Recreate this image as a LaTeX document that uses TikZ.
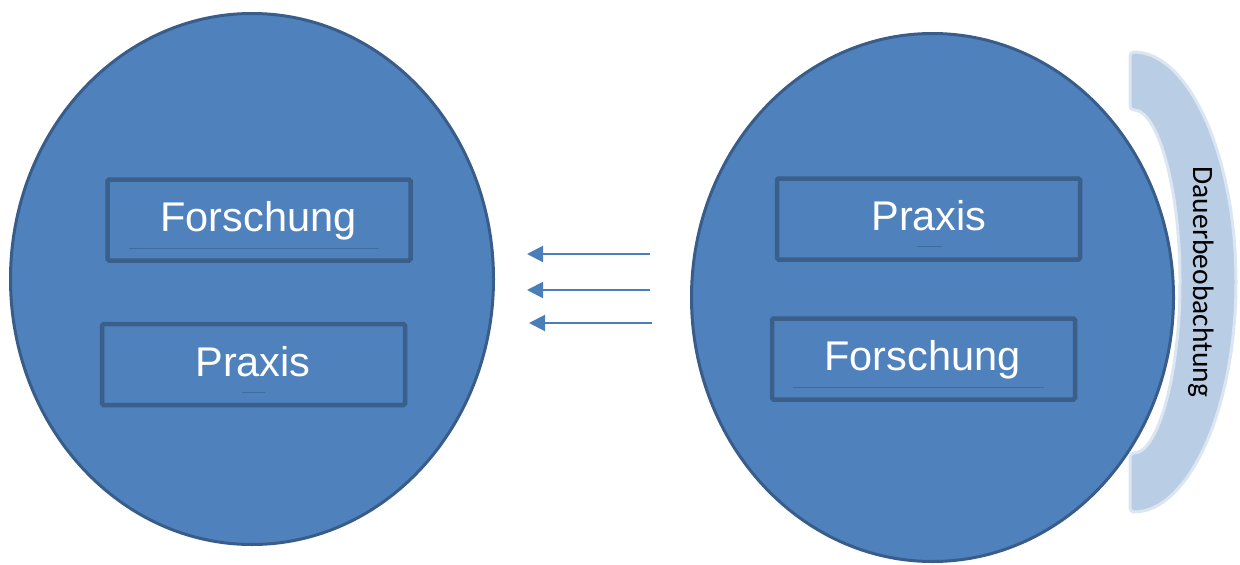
\documentclass[tikz,border=0pt]{standalone}
\usepackage{fontspec}
\setmainfont{Liberation Sans}
\newfontfamily\calib{Carlito}
\usetikzlibrary{shapes.geometric,arrows.meta}
\definecolor{fillblue}{HTML}{4F81BD}
\definecolor{edgeblue}{HTML}{385D8A}
\definecolor{boxedge}{HTML}{3A5F8B}
\definecolor{bandfill}{HTML}{B9CDE5}
\definecolor{bandedge}{HTML}{DCE6F2}
\definecolor{arrowblue}{HTML}{4A7EBB}
\definecolor{ulblue}{HTML}{3F6C9F}
\tikzset{
  bigoval/.style={ellipse, draw=edgeblue, fill=fillblue, line width=3pt, inner sep=0pt},
  labelbox/.style={rectangle, draw=boxedge, fill=fillblue, line width=4.5pt, rounded corners=1.5pt, minimum width=303pt, minimum height=81pt, inner sep=0pt},
  boxtext/.style={text=white, font=\fontsize{41.5}{45}\selectfont, inner sep=0pt, anchor=base},
  uline/.style={draw=ulblue, line width=0.8pt},
  band/.style={draw=bandedge, fill=bandfill, line width=3pt, rounded corners=4pt},
  bandtext/.style={rotate=-90, anchor=base, inner sep=0pt, font=\calib\fontsize{29.5}{32}\selectfont},
  flowarrow/.style={draw=arrowblue, line width=2pt, -{Triangle[length=16pt,width=16pt]}}
}
\begin{document}
\begin{tikzpicture}[x=1pt,y=-1pt]
\useasboundingbox (0,0) rectangle (1240,565);
% band
\draw[band] (1130,52) arc[start angle=-90, end angle=90, x radius=106, y radius=230]
  -- (1130,453) arc[start angle=90, end angle=-90, x radius=50, y radius=171.5] -- cycle;
\node[bandtext] (dauer) at (1193,282) {Dauerbeobachtung};
% ellipses
\node[bigoval, minimum width=483pt, minimum height=531pt] (left) at (252,279) {};
\node[bigoval, minimum width=482pt, minimum height=528pt] (right) at (932.5,297.5) {};
% left boxes
\node[labelbox] (lf) at (259,220) {};
\draw[uline] (129,248) -- (379,248);
\node[boxtext] (lft) at (258.5,231.7) {Forschung};
\node[labelbox] (lp) at (253.5,364.5) {};
\draw[uline] (242,392) -- (265,392);
\node[boxtext] (lpt) at (253,376) {Praxis};
% right boxes
\node[labelbox] (rp) at (928.5,219) {};
\draw[uline] (917,246) -- (942,246);
\node[boxtext] (rpt) at (929,230) {Praxis};
\node[labelbox] (rf) at (923.5,359) {};
\draw[uline] (793,387) -- (1044,387);
\node[boxtext] (rft) at (922.5,370) {Forschung};
% arrows
\coordinate (a1s) at (650,254); \coordinate (a1e) at (527,254);
\coordinate (a2s) at (650,290); \coordinate (a2e) at (527,290);
\coordinate (a3s) at (652,323); \coordinate (a3e) at (529,323);
\draw[flowarrow] (a1s) -- (a1e);
\draw[flowarrow] (a2s) -- (a2e);
\draw[flowarrow] (a3s) -- (a3e);
\end{tikzpicture}
\end{document}
